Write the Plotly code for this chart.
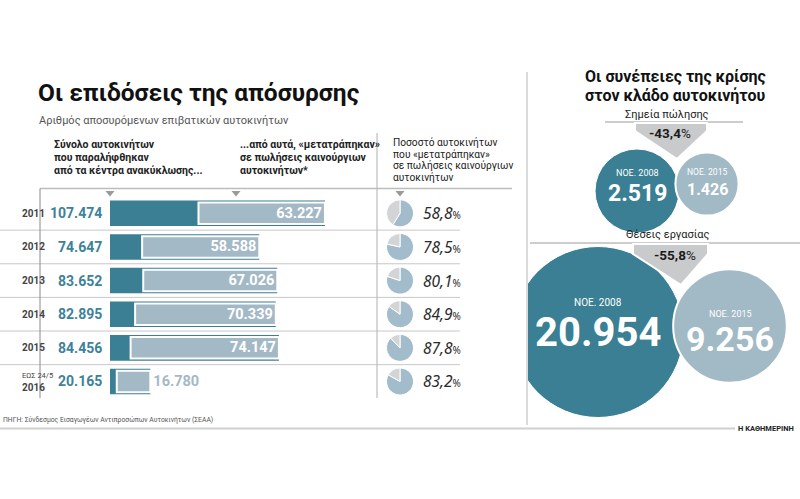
import plotly.graph_objects as go

# ---------------- data ----------------
years = ["2011", "2012", "2013", "2014", "2015", "2016"]
year_notes = ["", "", "", "", "", "ΕΩΣ 24/5"]
totals = [107474, 74647, 83652, 82895, 84456, 20165]
converted = [63227, 58588, 67026, 70339, 74147, 16780]

shops_labels = ["ΝΟΕ. 2008", "ΝΟΕ. 2015"]
shops_values = [2519, 1426]
jobs_labels = ["ΝΟΕ. 2008", "ΝΟΕ. 2015"]
jobs_values = [20954, 9256]

# ---------------- style ----------------
W, H = 800, 499
FONT = "Roboto"
TEAL = "#3a7f93"
TEAL_TXT = "#3d8299"
LIGHT = "#a4b9c6"
PIE_BLUE = "#a3bccb"
PIE_GRAY = "#d3d4d6"
CIRC_LIGHT = "#a2b9c6"
ARROW = "#c9cacc"
LINE = "#c8c8c8"
DARK = "#1e1e1e"


def px(x):
    return x / W


def py(y):
    return 1 - y / H


def fmt(v):
    return f"{v:,}".replace(",", ".")


def dec(v):
    return f"{v:.1f}".replace(".", ",")


fig = go.Figure()

# bar subplot geometry (pixels)
BAR_X0, BAR_X1 = 110, 377
ROW_TOP, ROW_BOT = 196.5, 398.3
n = len(years)
row_h = (ROW_BOT - ROW_TOP) / n
idx = list(range(n))
XMAX = 133500
scale = (BAR_X1 - BAR_X0) / XMAX

fig.add_trace(go.Bar(
    x=totals, y=idx, orientation="h", width=0.76,
    marker=dict(color=TEAL, line=dict(width=0)),
    hoverinfo="skip", showlegend=False, xaxis="x", yaxis="y"))

fig.add_trace(go.Bar(
    x=converted, base=[t - c for t, c in zip(totals, converted)], y=idx,
    orientation="h", width=0.64,
    marker=dict(color=LIGHT, line=dict(color="white", width=2)),
    text=[f"<b>{fmt(c)}</b>" for c in converted],
    textposition=["inside" if c * scale > 60 else "outside" for c in converted],
    insidetextanchor="end", constraintext="none", cliponaxis=False,
    insidetextfont=dict(color="white", size=14.5, family=FONT),
    outsidetextfont=dict(color=LIGHT, size=14.5, family=FONT),
    hoverinfo="skip", showlegend=False, xaxis="x", yaxis="y"))

# pies
for i in idx:
    cy = ROW_TOP + row_h * (i + 0.5)
    fig.add_trace(go.Pie(
        values=[converted[i], totals[i] - converted[i]], sort=False,
        direction="clockwise", rotation=0, textinfo="none",
        marker=dict(colors=[PIE_BLUE, PIE_GRAY], line=dict(color="white", width=1)),
        domain=dict(x=[px(386.5), px(413.5)], y=[py(cy + 13.5), py(cy - 13.5)]),
        hoverinfo="skip", showlegend=False))
    pct = converted[i] / totals[i] * 100
    fig.add_annotation(
        x=px(421), y=i, xref="paper", yref="y", xanchor="left", yanchor="middle",
        text=f"<i>{dec(pct)}</i><span style='font-size:10px'>%</span>",
        showarrow=False, font=dict(size=15.5, color="#2a2a2a", family="Noto Sans"))

# totals & year labels
for i in idx:
    fig.add_annotation(
        x=0, y=i, xref="x", yref="y", xanchor="right", yanchor="middle", xshift=-6,
        text=f"<b>{fmt(totals[i])}</b>", showarrow=False,
        font=dict(size=14, color=TEAL_TXT, family=FONT))
    if year_notes[i]:
        fig.add_annotation(x=px(20), y=i, xref="paper", yref="y", yshift=6,
                           text=year_notes[i], showarrow=False,
                           font=dict(size=7.5, color="#444", family=FONT))
        fig.add_annotation(x=px(20), y=i, xref="paper", yref="y", yshift=-6,
                           text=f"<b>{years[i]}</b>", showarrow=False,
                           font=dict(size=10, color="#444", family=FONT))
    else:
        fig.add_annotation(x=px(20), y=i, xref="paper", yref="y",
                           text=f"<b>{years[i]}</b>", showarrow=False,
                           font=dict(size=10, color="#444", family=FONT))

# row separator lines
for i in range(n - 1):
    fig.add_shape(type="line", xref="paper", yref="y", x0=0, x1=px(460),
                  y0=i + 0.5, y1=i + 0.5, line=dict(color=LINE, width=1))

shapes_line = [
    (40, 188.5, 512, 188.5, "#bdbdbd", 1.5),   # header rule
    (40, 188.5, 40, 398, "#8a8a8a", 1),        # year column rule
    (377, 133, 377, 398, "#bdbdbd", 1.2),      # pie column rule
    (527, 72, 527, 425, "#cfcfcf", 1.5),       # panel separator
    (0, 428.5, 735, 428.5, "#d0d0d0", 2),      # bottom rule
    (605, 122, 743, 122, "#bdbdbd", 1.5),      # shops rule
    (530, 243, 800, 243, "#bdbdbd", 1.5),      # jobs rule
]
for x0, y0, x1, y1, c, w in shapes_line:
    fig.add_shape(type="line", xref="paper", yref="paper",
                  x0=px(x0), y0=py(y0), x1=px(x1), y1=py(y1),
                  line=dict(color=c, width=w))


def poly(points):
    return "M " + " L ".join(f"{px(x)},{py(y)}" for x, y in points) + " Z"


for tx in (110, 236, 400):
    fig.add_shape(type="path", xref="paper", yref="paper",
                  path=poly([(tx - 4.5, 191), (tx + 4.5, 191), (tx, 196.5)]),
                  fillcolor="#9a9a9a", line=dict(width=0))

# ---------------- text (left panel) ----------------
def T(x, y, text, size, color=DARK, anchor="left", family=FONT):
    fig.add_annotation(x=px(x), y=py(y), xref="paper", yref="paper", text=text,
                       showarrow=False, xanchor=anchor, yanchor="middle",
                       font=dict(size=size, color=color, family=family))


T(36, 93, "<b>Οι επιδόσεις της απόσυρσης</b>", 24.5, "#111")
T(37, 120, "Αριθμός αποσυρόμενων επιβατικών αυτοκινήτων", 11, "#555")

for k, line in enumerate(["Σύνολο αυτοκινήτων", "που παραλήφθηκαν",
                          "από τα κέντρα ανακύκλωσης..."]):
    T(52, 145 + 12.5 * k, f"<b>{line}</b>", 10.5, "#222")
for k, line in enumerate(["...από αυτά, «μετατράπηκαν»", "σε πωλήσεις καινούργιων",
                          "αυτοκινήτων*"]):
    T(238, 145 + 12.5 * k, f"<b>{line}</b>", 10.5, "#222")
for k, line in enumerate(["Ποσοστό αυτοκινήτων", "που «μετατράπηκαν»",
                          "σε πωλήσεις καινούργιων", "αυτοκινήτων"]):
    T(391, 143 + 11.4 * k, line, 10.2, "#222")

T(1, 419, "ΠΗΓΗ: Σύνδεσμος Εισαγωγέων Αντιπροσώπων Αυτοκινήτων (ΣΕΑΑ)", 6.8, "#555")
T(796, 428.5, "<b>Η ΚΑΘΗΜΕΡΙΝΗ</b>", 7.5, "#222", anchor="right")

# ---------------- right panel ----------------
T(675, 76.5, "<b>Οι συνέπειες της κρίσης</b>", 16, "#111", anchor="center")
T(675, 96, "<b>στον κλάδο αυτοκινήτου</b>", 16, "#111", anchor="center")
T(667, 114, "Σημεία πώλησης", 11, "#222", anchor="center")
T(668, 234, "Θέσεις εργασίας", 11, "#222", anchor="center")

# circles (area proportional)
shops_pos = ([637, 707], [191, 184])
jobs_pos = ([598, 730], [332, 326])
for vals, labels, (xs, ys), dmax in ((shops_values, shops_labels, shops_pos, 84),
                                     (jobs_values, jobs_labels, jobs_pos, 171)):
    sref = 2 * max(vals) / dmax ** 2
    fig.add_trace(go.Scatter(
        x=xs, y=ys, mode="markers", xaxis="x2", yaxis="y2",
        marker=dict(size=vals, sizemode="area", sizeref=sref,
                    color=[TEAL, CIRC_LIGHT], opacity=1,
                    line=dict(color="white", width=[1, 2])),
        hoverinfo="skip", showlegend=False, cliponaxis=True))

# arrows
fig.add_shape(type="path", xref="paper", yref="paper", layer="above",
              path=poly([(635, 123), (707, 123), (707, 131), (677, 159), (635, 131)]),
              fillcolor=ARROW, line=dict(color="white", width=2))
fig.add_shape(type="path", xref="paper", yref="paper", layer="above",
              path=poly([(633, 244), (708, 244), (708, 254), (681, 285), (633, 254)]),
              fillcolor=ARROW, line=dict(color="white", width=2))

shops_chg = (shops_values[1] - shops_values[0]) / shops_values[0] * 100
jobs_chg = (jobs_values[1] - jobs_values[0]) / jobs_values[0] * 100
T(670, 133, f"<b>{dec(shops_chg)}</b>%", 13.5, "#1a1a1a", anchor="center")
T(675, 255, f"<b>{dec(jobs_chg)}</b>%", 13.5, "#1a1a1a", anchor="center")

# circle labels
T(637, 173, shops_labels[0], 9, "white", anchor="center")
T(637, 194, f"<b>{fmt(shops_values[0])}</b>", 23, "white", anchor="center")
T(707, 172, shops_labels[1], 8.5, "white", anchor="center")
T(707, 190, f"<b>{fmt(shops_values[1])}</b>", 16, "white", anchor="center")
T(598, 302, jobs_labels[0], 10, "white", anchor="center")
T(598, 332, f"<b>{fmt(jobs_values[0])}</b>", 40, "white", anchor="center")
T(730, 314, jobs_labels[1], 9, "white", anchor="center")
T(730, 339, f"<b>{fmt(jobs_values[1])}</b>", 34, "white", anchor="center")

fig.update_layout(
    width=W, height=H, margin=dict(l=0, r=0, t=0, b=0),
    paper_bgcolor="white", plot_bgcolor="rgba(0,0,0,0)",
    barmode="overlay", showlegend=False, font=dict(family=FONT),
    xaxis=dict(domain=[px(BAR_X0), px(BAR_X1)], range=[0, XMAX], visible=False,
               fixedrange=True),
    yaxis=dict(domain=[py(ROW_BOT), py(ROW_TOP)], range=[n - 0.5, -0.5],
               visible=False, fixedrange=True),
    xaxis2=dict(domain=[px(528), 1], range=[528, 800], visible=False,
                anchor="y2", fixedrange=True),
    yaxis2=dict(domain=[0, 1], range=[H, 0], visible=False, anchor="x2",
                fixedrange=True),
)

fig.write_html("out.html", config={"displayModeBar": False},
               post_script="document.body.style.margin='0px';"
                           "document.body.style.overflow='hidden';")
